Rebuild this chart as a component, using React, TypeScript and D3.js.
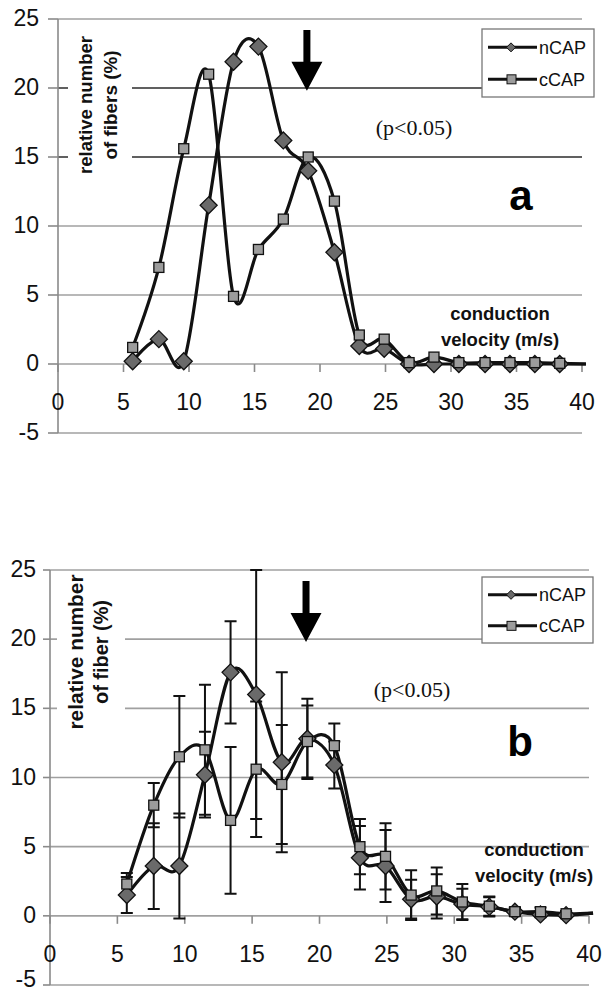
import React, { useEffect, useRef } from 'react';
import { select, scaleLinear, line, curveCardinal } from 'd3';

// conduction velocity bins (m/s), shared by both panels
const velocity = [5.7, 7.7, 9.6, 11.5, 13.4, 15.3, 17.2, 19.1, 21.1, 23.0, 24.9, 26.8, 28.7, 30.6, 32.6, 34.5, 36.4, 38.3, 40.3];

// panel a
const nCapA = [0.2, 1.8, 0.2, 11.5, 21.9, 23.0, 16.2, 14.0, 8.1, 1.3, 1.1, 0, 0, 0, 0, 0, 0, 0, 0];
const cCapA = [1.2, 7.0, 15.6, 21.0, 4.9, 8.3, 10.5, 15.0, 11.8, 2.1, 1.8, 0.1, 0.5, 0.1, 0.1, 0.1, 0.1, 0.05, 0];

// panel b (mean and error)
const nCapB = [1.5, 3.6, 3.6, 10.2, 17.6, 16.0, 11.1, 12.8, 10.9, 4.2, 3.6, 1.2, 1.4, 0.85, 0.65, 0.3, 0.1, 0.05, 0.2];
const cCapB = [2.3, 8.0, 11.5, 12.0, 6.9, 10.6, 9.5, 12.6, 12.3, 5.0, 4.3, 1.5, 1.8, 1.0, 0.7, 0.3, 0.3, 0.15, 0.2];
const nCapErrB = [1.3, 3.1, 3.8, 3.1, 3.7, 9.0, 6.5, 2.9, 1.7, 2.3, 2.6, 1.4, 1.6, 1.1, 0.7, 0.3, 0.2, 0.2, 0];
const cCapErrB = [0.8, 1.6, 4.4, 4.7, 5.3, 4.9, 4.3, 2.6, 1.6, 2.0, 2.4, 1.8, 1.7, 1.3, 0.7, 0.3, 0.3, 0.2, 0];

const xTicks = [0, 5, 10, 15, 20, 25, 30, 35, 40];
const yTicks = [-5, 0, 5, 10, 15, 20, 25];
const seriesNames = ['nCAP', 'cCAP'];

const SANS = '"Liberation Sans", Arial, sans-serif';
const SERIF = '"Liberation Serif", "Times New Roman", serif';

const panels = [
  {
    left: 58, right: 582, top: 19, bottom: 433,
    nCap: nCapA, cCap: cCapA, nErr: null, cErr: null,
    darkGrid: [15, 20],
    tickLen: 10, labelRight: 39,
    title: ['relative number', 'of fibers (%)'], titleY: 105, titleX: [92, 117], titleLen: [138, 109], titleSize: 19,
    titleBox: [68, 30, 64, 152],
    legend: { x: 482, y: 29, w: 112, h: 68 },
    letter: 'a', letterPos: [521, 210],
    pPos: [414, 135],
    cvPos: [500, 320],
  },
  {
    left: 50, right: 589, top: 570, bottom: 985,
    nCap: nCapB, cCap: cCapB, nErr: nCapErrB, cErr: cCapErrB,
    darkGrid: [],
    tickLen: 7, labelRight: 36,
    title: ['relative number', 'of fiber (%)'], titleY: 652, titleX: [83, 108], titleLen: [155, 104], titleSize: 20,
    titleBox: [57, 573, 68, 164],
    legend: { x: 482, y: 577, w: 111, h: 66 },
    letter: 'b', letterPos: [520, 756],
    pPos: [412, 697],
    cvPos: [534, 856],
  },
];

function diamond(cx, cy, r) {
  return `M${cx},${cy - r}L${cx + r},${cy}L${cx},${cy + r}L${cx - r},${cy}Z`;
}

function drawPanel(svg, p) {
  const x = scaleLinear().domain([0, 40]).range([p.left, p.right]);
  const y = scaleLinear().domain([-5, 25]).range([p.bottom, p.top]);
  const g = svg.append('g');

  // gridlines
  g.selectAll('.grid')
    .data(yTicks)
    .join('line')
    .attr('class', 'grid')
    .attr('x1', x(0))
    .attr('x2', x(40))
    .attr('y1', d => y(d))
    .attr('y2', d => y(d))
    .attr('stroke', d => (p.darkGrid.includes(d) ? '#2b2b2b' : '#a0a0a0'))
    .attr('stroke-width', 1.6);

  // white box behind the y title
  const [bx, by, bw, bh] = p.titleBox;
  g.append('rect').attr('x', bx).attr('y', by).attr('width', bw).attr('height', bh).attr('fill', '#fff');

  // y axis
  g.append('line')
    .attr('x1', x(0)).attr('x2', x(0))
    .attr('y1', y(25)).attr('y2', y(-5))
    .attr('stroke', '#8a8a8a').attr('stroke-width', 1.6);
  g.selectAll('.ytick')
    .data(yTicks)
    .join('line')
    .attr('class', 'ytick')
    .attr('x1', x(0) - p.tickLen).attr('x2', x(0))
    .attr('y1', d => y(d)).attr('y2', d => y(d))
    .attr('stroke', '#8a8a8a').attr('stroke-width', 1.6);
  g.selectAll('.ylab')
    .data(yTicks)
    .join('text')
    .attr('class', 'ylab')
    .attr('x', p.labelRight)
    .attr('y', d => Math.min(y(d) + 7, 987))
    .attr('text-anchor', 'end')
    .attr('font-family', SANS)
    .attr('font-size', 23)
    .attr('fill', '#111')
    .text(d => d);

  // x axis ticks along zero line
  g.selectAll('.xtick')
    .data(xTicks)
    .join('line')
    .attr('class', 'xtick')
    .attr('x1', d => x(d)).attr('x2', d => x(d))
    .attr('y1', y(0)).attr('y2', y(0) + 8)
    .attr('stroke', '#8a8a8a').attr('stroke-width', 1.6);
  g.selectAll('.xlab')
    .data(xTicks)
    .join('text')
    .attr('class', 'xlab')
    .attr('x', d => x(d))
    .attr('y', y(0) + 46)
    .attr('text-anchor', 'middle')
    .attr('font-family', SANS)
    .attr('font-size', 23)
    .attr('fill', '#111')
    .text(d => d);

  // y title
  const tg = g.append('g').attr('transform', `translate(0,${p.titleY}) rotate(-90)`);
  p.title.forEach((t, i) => {
    tg.append('text')
      .attr('x', 0)
      .attr('y', p.titleX[i])
      .attr('text-anchor', 'middle')
      .attr('font-family', SANS)
      .attr('font-weight', 'bold')
      .attr('font-size', p.titleSize)
      .attr('textLength', p.titleLen[i])
      .attr('lengthAdjust', 'spacingAndGlyphs')
      .attr('fill', '#111')
      .text(t);
  });

  // error bars
  [[p.nCap, p.nErr], [p.cCap, p.cErr]].forEach(([vals, errs]) => {
    if (!errs) return;
    const bars = vals
      .map((v, i) => ({ vx: velocity[i], v, e: errs[i] }))
      .filter(d => d.e > 0 && d.vx <= 40);
    g.selectAll(null)
      .data(bars)
      .join('path')
      .attr('d', d => {
        const cx = x(d.vx);
        const y1 = y(d.v + d.e);
        const y2 = y(d.v - d.e);
        return `M${cx},${y1}V${y2}M${cx - 6},${y1}H${cx + 6}M${cx - 6},${y2}H${cx + 6}`;
      })
      .attr('fill', 'none')
      .attr('stroke', '#111')
      .attr('stroke-width', 2);
  });

  // series lines
  const lineGen = line()
    .x((d, i) => x(velocity[i]))
    .y(d => y(d))
    .curve(curveCardinal);
  [p.nCap, p.cCap].forEach(vals => {
    g.append('path')
      .attr('d', lineGen(vals))
      .attr('fill', 'none')
      .attr('stroke', '#111')
      .attr('stroke-width', 3.2);
  });

  // markers (points beyond the axis max are clipped)
  const pts = vals => vals.map((v, i) => ({ vx: velocity[i], v })).filter(d => d.vx <= 40);
  g.selectAll('.dia')
    .data(pts(p.nCap))
    .join('path')
    .attr('class', 'dia')
    .attr('d', d => diamond(x(d.vx), y(d.v), 8.5))
    .attr('fill', '#6a6a6a')
    .attr('stroke', '#111')
    .attr('stroke-width', 1.3);
  g.selectAll('.sq')
    .data(pts(p.cCap))
    .join('rect')
    .attr('class', 'sq')
    .attr('x', d => x(d.vx) - 5)
    .attr('y', d => y(d.v) - 5)
    .attr('width', 10)
    .attr('height', 10)
    .attr('fill', '#9c9c9c')
    .attr('stroke', '#111')
    .attr('stroke-width', 1.3);

  // arrow at 19 m/s
  const ax = x(19);
  const aTop = y(24.2);
  const aBase = y(21.9);
  const aTip = y(19.8);
  g.append('path')
    .attr('d', `M${ax - 3.5},${aTop}H${ax + 3.5}V${aBase}H${ax + 15.5}L${ax},${aTip}L${ax - 15.5},${aBase}H${ax - 3.5}Z`)
    .attr('fill', '#000');

  // legend
  const lg = g.append('g');
  const L = p.legend;
  lg.append('rect')
    .attr('x', L.x).attr('y', L.y).attr('width', L.w).attr('height', L.h)
    .attr('fill', '#fff').attr('stroke', '#777').attr('stroke-width', 1.3);
  seriesNames.forEach((name, i) => {
    const ly = L.y + L.h * (i === 0 ? 0.27 : 0.74);
    lg.append('line')
      .attr('x1', L.x + 6).attr('x2', L.x + 55)
      .attr('y1', ly).attr('y2', ly)
      .attr('stroke', '#111').attr('stroke-width', 3);
    if (i === 0) {
      lg.append('path')
        .attr('d', diamond(L.x + 29, ly, 4.5))
        .attr('fill', '#6a6a6a').attr('stroke', '#111').attr('stroke-width', 1);
    } else {
      lg.append('rect')
        .attr('x', L.x + 25).attr('y', ly - 4.5).attr('width', 9).attr('height', 9)
        .attr('fill', '#9c9c9c').attr('stroke', '#111').attr('stroke-width', 1);
    }
    lg.append('text')
      .attr('x', L.x + 57)
      .attr('y', ly + 6.5)
      .attr('font-family', SANS)
      .attr('font-size', 18)
      .attr('fill', '#111')
      .text(name);
  });

  // annotations
  g.append('text')
    .attr('x', p.pPos[0]).attr('y', p.pPos[1])
    .attr('text-anchor', 'middle')
    .attr('font-family', SERIF)
    .attr('font-size', 22)
    .attr('fill', '#111')
    .text('(p<0.05)');
  g.append('text')
    .attr('x', p.letterPos[0]).attr('y', p.letterPos[1])
    .attr('text-anchor', 'middle')
    .attr('font-family', SANS)
    .attr('font-weight', 'bold')
    .attr('font-size', 42)
    .attr('fill', '#000')
    .text(p.letter);
  ['conduction', 'velocity (m/s)'].forEach((t, i) => {
    g.append('text')
      .attr('x', p.cvPos[0]).attr('y', p.cvPos[1] + i * 26)
      .attr('text-anchor', 'middle')
      .attr('font-family', SANS)
      .attr('font-weight', 'bold')
      .attr('font-size', 18.5)
      .attr('fill', '#111')
      .text(t);
  });
}

export default function App() {
  const svgRef = useRef(null);

  useEffect(() => {
    if (!svgRef.current) return;
    const svg = select(svgRef.current);
    svg.selectAll('*').remove();
    svg.append('rect').attr('width', 603).attr('height', 993).attr('fill', '#fff');
    panels.forEach(p => drawPanel(svg, p));
  }, []);

  return (
    <div style={{ position: 'absolute', left: 0, top: 0 }}>
      <svg ref={svgRef} width={603} height={993} style={{ display: 'block' }}></svg>
    </div>
  );
}
